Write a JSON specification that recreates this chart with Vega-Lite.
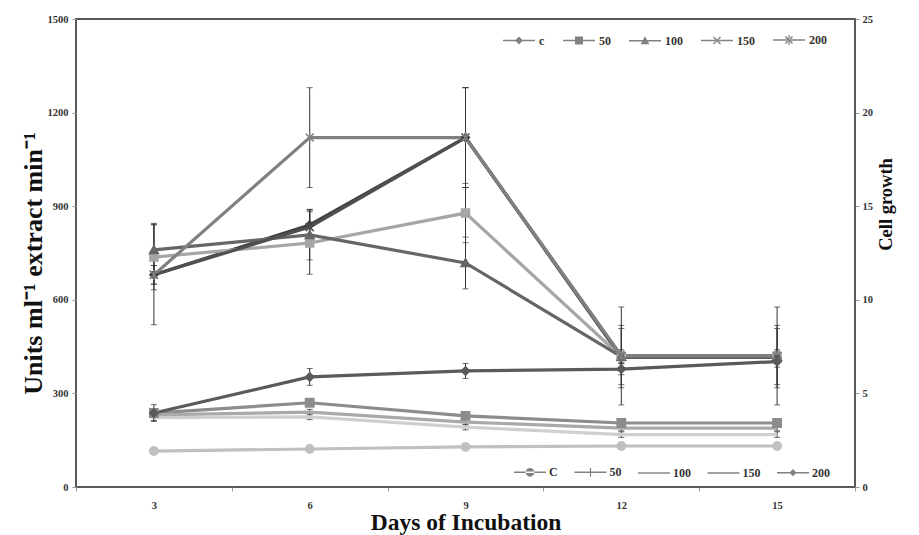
{
  "$schema": "https://vega.github.io/schema/vega-lite/v6.json",
  "width": 779,
  "height": 468,
  "autosize": "none",
  "padding": {"left": 76, "top": 19, "right": 64, "bottom": 48},
  "background": "white",
  "config": {
    "view": {"stroke": "#595959", "strokeWidth": 2},
    "font": "Liberation Serif",
    "axis": {
      "labelFont": "Liberation Serif", "labelFontWeight": "bold", "labelFontSize": 10.5, "labelColor": "#333333",
      "titleFont": "Liberation Serif", "titleFontWeight": "bold", "titleFontSize": 20, "titleColor": "#111111",
      "tickColor": "#999999", "tickSize": 4, "grid": false, "domain": false
    },
    "legend": {
      "labelFont": "Liberation Serif", "labelFontWeight": "bold", "labelFontSize": 12, "labelColor": "#333333"
    }
  },
  "datasets": {
    "enz": [
      {"day": 3, "s": "c", "v": 680, "e": 30}, {"day": 6, "s": "c", "v": 840, "e": 50}, {"day": 9, "s": "c", "v": 1120, "e": 160}, {"day": 12, "s": "c", "v": 415, "e": 20}, {"day": 15, "s": "c", "v": 415, "e": 20},
      {"day": 3, "s": "50", "v": 737, "e": 105}, {"day": 6, "s": "50", "v": 782, "e": 100}, {"day": 9, "s": "50", "v": 878, "e": 95}, {"day": 12, "s": "50", "v": 418, "e": 90}, {"day": 15, "s": "50", "v": 418, "e": 90},
      {"day": 3, "s": "100", "v": 760, "e": 85}, {"day": 6, "s": "100", "v": 808, "e": 80}, {"day": 9, "s": "100", "v": 718, "e": 83}, {"day": 12, "s": "100", "v": 418, "e": 100}, {"day": 15, "s": "100", "v": 418, "e": 100},
      {"day": 3, "s": "150", "v": 680, "e": 30}, {"day": 6, "s": "150", "v": 833, "e": 55}, {"day": 9, "s": "150", "v": 1120, "e": 160}, {"day": 12, "s": "150", "v": 420, "e": 20}, {"day": 15, "s": "150", "v": 420, "e": 20},
      {"day": 3, "s": "200", "v": 680, "e": 160}, {"day": 6, "s": "200", "v": 1120, "e": 160}, {"day": 9, "s": "200", "v": 1120, "e": 160}, {"day": 12, "s": "200", "v": 420, "e": 157}, {"day": 15, "s": "200", "v": 420, "e": 157}
    ],
    "cell": [
      {"day": 3, "s": "C", "v": 1.92, "e": 0.05}, {"day": 6, "s": "C", "v": 2.03, "e": 0.05}, {"day": 9, "s": "C", "v": 2.14, "e": 0.05}, {"day": 12, "s": "C", "v": 2.19, "e": 0.05}, {"day": 15, "s": "C", "v": 2.19, "e": 0.05},
      {"day": 3, "s": "50", "v": 3.95, "e": 0.15}, {"day": 6, "s": "50", "v": 4.5, "e": 0.15}, {"day": 9, "s": "50", "v": 3.8, "e": 0.15}, {"day": 12, "s": "50", "v": 3.42, "e": 0.15}, {"day": 15, "s": "50", "v": 3.42, "e": 0.15},
      {"day": 3, "s": "100", "v": 3.7, "e": 0.15}, {"day": 6, "s": "100", "v": 3.75, "e": 0.15}, {"day": 9, "s": "100", "v": 3.2, "e": 0.15}, {"day": 12, "s": "100", "v": 2.8, "e": 0.15}, {"day": 15, "s": "100", "v": 2.8, "e": 0.15},
      {"day": 3, "s": "150", "v": 3.85, "e": 0.15}, {"day": 6, "s": "150", "v": 4.0, "e": 0.15}, {"day": 9, "s": "150", "v": 3.47, "e": 0.15}, {"day": 12, "s": "150", "v": 3.15, "e": 0.15}, {"day": 15, "s": "150", "v": 3.15, "e": 0.15},
      {"day": 3, "s": "200", "v": 3.95, "e": 0.45}, {"day": 6, "s": "200", "v": 5.88, "e": 0.45}, {"day": 9, "s": "200", "v": 6.2, "e": 0.4}, {"day": 12, "s": "200", "v": 6.3, "e": 0.3}, {"day": 15, "s": "200", "v": 6.7, "e": 0.3}
    ]
  },
  "encoding": {
    "x": {
      "field": "day", "type": "ordinal",
      "scale": {"type": "band", "domain": [3, 6, 9, 12, 15], "paddingInner": 0, "paddingOuter": 0},
      "axis": {"title": "Days of Incubation", "labelAngle": 0, "tickBand": "extent", "labelPadding": 9, "titlePadding": 0, "titleFontSize": 23.5}
    }
  },
  "layer": [
    {
      "data": {"name": "enz"},
      "encoding": {
        "y": {
          "field": "v", "type": "quantitative",
          "scale": {"domain": [0, 1500], "nice": false, "zero": true},
          "axis": {"orient": "left", "title": "Units ml⁻¹ extract min⁻¹", "format": "d", "values": [0, 300, 600, 900, 1200, 1500], "labelPadding": 4, "titlePadding": 1, "titleFontSize": 26, "titleY": 244}
        }
      },
      "layer": [
        {
          "mark": {"type": "errorbar", "ticks": {"size": 6, "color": "#333333"}, "rule": {"color": "#333333", "strokeWidth": 1}},
          "encoding": {"yError": {"field": "e"}, "detail": {"field": "s"}}
        },
        {
          "mark": {"type": "line", "strokeWidth": 3.2},
          "encoding": {
            "stroke": {"field": "s", "type": "nominal", "scale": {"domain": ["c", "50", "100", "150", "200"], "range": ["#404040", "#a6a6a6", "#666666", "#505050", "#808080"]}, "legend": null},
            "order": {"field": "day"}
          }
        },
        {
          "mark": {"type": "point", "filled": true, "strokeWidth": 1.5, "opacity": 1},
          "encoding": {
            "shape": {"field": "s", "type": "nominal", "scale": {"domain": ["c", "50", "100", "150", "200"], "range": ["M0,-1L1,0L0,1L-1,0Z", "M-1,-1H1V1H-1Z", "M0,-1.1L1.1,0.9H-1.1Z", "M-1,-1L1,1M-1,1L1,-1", "M-1,-1L1,1M-1,1L1,-1M0,-1.3V1.3"]}, "legend": null},
            "fill": {"field": "s", "type": "nominal", "scale": {"domain": ["c", "50", "100", "150", "200"], "range": ["#404040", "#a6a6a6", "#666666", "#505050", "#808080"]}, "legend": null},
            "stroke": {"field": "s", "type": "nominal", "scale": {"domain": ["c", "50", "100", "150", "200"], "range": ["#404040", "#a6a6a6", "#666666", "#505050", "#808080"]}, "legend": null},
            "size": {"value": 64}
          }
        },
        {
          "transform": [{"filter": "datum.v < 0"}],
          "mark": {"type": "point", "filled": true},
          "encoding": {
            "shape": {"field": "s", "type": "nominal", "scale": {"domain": ["c", "50", "100", "150", "200"], "range": [
                "M-4,-0.2H4V0.2H-4Z M0,-1L1,0L0,1L-1,0Z",
                "M-4,-0.2H4V0.2H-4Z M-1,-1H1V1H-1Z",
                "M-4,-0.2H4V0.2H-4Z M0,-1.1L1.1,0.9H-1.1Z",
                "M-4,-0.2H4V0.2H-4Z M-1,-0.75L-0.75,-1L1,0.75L0.75,1Z M-1,0.75L-0.75,1L1,-0.75L0.75,-1Z",
                "M-4,-0.2H4V0.2H-4Z M-1,-0.75L-0.75,-1L1,0.75L0.75,1Z M-1,0.75L-0.75,1L1,-0.75L0.75,-1Z M-0.15,-1.25H0.15V1.25H-0.15Z"]},
              "legend": {"title": null, "orient": "none", "direction": "horizontal", "legendX": 425, "legendY": 15, "padding": 0, "symbolSize": 64, "symbolOffset": 12, "labelOffset": 14, "columnPadding": 15}},
            "fill": {"field": "s", "type": "nominal", "scale": {"domain": ["c", "50", "100", "150", "200"], "range": ["#404040", "#a6a6a6", "#666666", "#505050", "#808080"]}, "legend": {"title": null, "orient": "none", "direction": "horizontal", "legendX": 425, "legendY": 15, "padding": 0, "symbolSize": 64, "symbolOffset": 12, "labelOffset": 14, "columnPadding": 15}}
          }
        }
      ],
      "resolve": {"scale": {"shape": "independent"}}
    },
    {
      "data": {"name": "cell"},
      "encoding": {
        "y": {
          "field": "v", "type": "quantitative",
          "scale": {"domain": [0, 25], "nice": false, "zero": true},
          "axis": {"orient": "right", "title": "Cell growth", "values": [0, 5, 10, 15, 20, 25], "labelPadding": 3, "titlePadding": 23, "titleAngle": 270, "titleY": 185, "titleFontSize": 18.5}
        }
      },
      "layer": [
        {
          "mark": {"type": "errorbar", "ticks": {"size": 6, "color": "#333333"}, "rule": {"color": "#333333", "strokeWidth": 1}},
          "encoding": {"yError": {"field": "e"}, "detail": {"field": "s"}}
        },
        {
          "mark": {"type": "line", "strokeWidth": 3.2},
          "encoding": {
            "stroke": {"field": "s", "type": "nominal", "scale": {"domain": ["C", "50", "100", "150", "200"], "range": ["#c0c0c0", "#8c8c8c", "#cfcfcf", "#a9a9a9", "#5a5a5a"]}, "legend": null},
            "order": {"field": "day"}
          }
        },
        {
          "mark": {"type": "point", "filled": true, "strokeWidth": 1.5, "opacity": 1},
          "encoding": {
            "shape": {"field": "s", "type": "nominal", "scale": {"domain": ["C", "50", "100", "150", "200"], "range": ["circle", "M-1,-1H1V1H-1Z", "M0,0", "M0,0", "M0,-1L1,0L0,1L-1,0Z"]}, "legend": null},
            "fill": {"field": "s", "type": "nominal", "scale": {"domain": ["C", "50", "100", "150", "200"], "range": ["#c0c0c0", "#8c8c8c", "#cfcfcf", "#a9a9a9", "#5a5a5a"]}, "legend": null},
            "stroke": {"field": "s", "type": "nominal", "scale": {"domain": ["C", "50", "100", "150", "200"], "range": ["#c0c0c0", "#8c8c8c", "#cfcfcf", "#a9a9a9", "#5a5a5a"]}, "legend": null},
            "size": {"value": 70}
          }
        },
        {
          "transform": [{"filter": "datum.v < 0"}],
          "mark": {"type": "point", "filled": true},
          "encoding": {
            "shape": {"field": "s", "type": "nominal", "scale": {"domain": ["C", "50", "100", "150", "200"], "range": [
                "M-4,-0.2H4V0.2H-4Z M-1.1,0A1.1,1.1 0 1,0 1.1,0A1.1,1.1 0 1,0 -1.1,0Z",
                "M-4,-0.18H4V0.18H-4Z M-0.15,-1.1H0.15V1.1H-0.15Z",
                "M-4,-0.18H4V0.18H-4Z",
                "M-4,-0.2H4V0.2H-4Z",
                "M-4,-0.2H4V0.2H-4Z M0,-0.9L0.9,0L0,0.9L-0.9,0Z"]},
              "legend": {"title": null, "orient": "none", "direction": "horizontal", "legendX": 436, "legendY": 447, "padding": 0, "symbolSize": 64, "symbolOffset": 12, "labelOffset": 13, "columnPadding": 13.5}},
            "fill": {"field": "s", "type": "nominal", "scale": {"domain": ["C", "50", "100", "150", "200"], "range": ["#c0c0c0", "#595959", "#cfcfcf", "#a9a9a9", "#5a5a5a"]}, "legend": {"title": null, "orient": "none", "direction": "horizontal", "legendX": 436, "legendY": 447, "padding": 0, "symbolSize": 64, "symbolOffset": 12, "labelOffset": 13, "columnPadding": 13.5}}
          }
        }
      ],
      "resolve": {"scale": {"shape": "independent"}}
    }
  ],
  "resolve": {"scale": {"y": "independent", "stroke": "independent", "fill": "independent", "shape": "independent"}}
}
